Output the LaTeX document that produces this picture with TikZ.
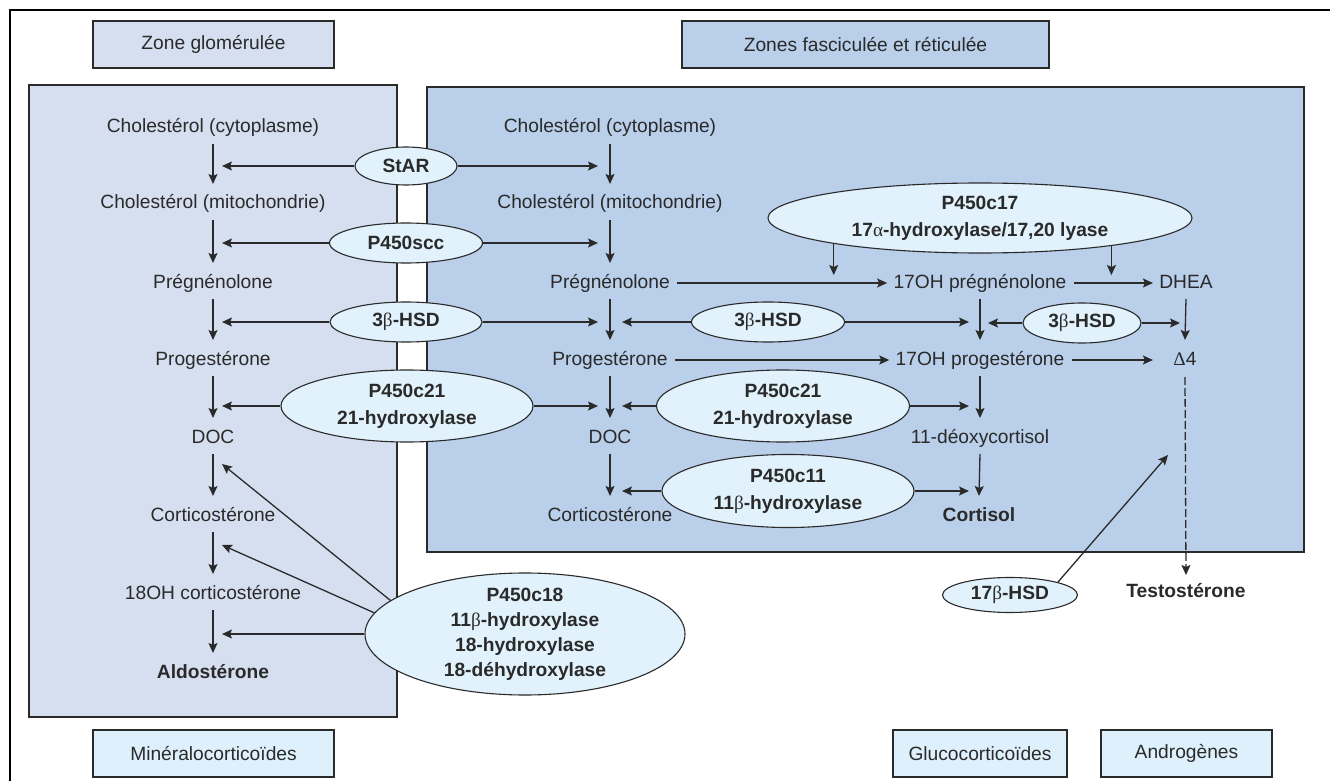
\documentclass[tikz,border=0pt]{standalone}
\usepackage{fontspec}
\setmainfont{Liberation Sans}
\newfontfamily\grkfont{Liberation Serif}
\usepackage{tikz}
\usetikzlibrary{calc}
\usetikzlibrary{shapes.geometric}
\usetikzlibrary{arrows.meta}

\definecolor{glomfill}{HTML}{D5DFF0}
\definecolor{fascfill}{HTML}{B9CFEA}
\definecolor{enzfill}{HTML}{E1F2FC}
\definecolor{tagfill}{HTML}{DDF0FB}
\definecolor{ink}{HTML}{2A2A2A}

% greek letters set apart, not bold
\newcommand{\gk}[1]{{\grkfont\mdseries #1}}
% one step down a column
\newcommand{\conv}[2]{\draw[flow] ([yshift=-8pt]#1.center) -- ([yshift=10pt]#2.center);}

\begin{document}
\begin{tikzpicture}[
		x=0.5pt, y=-0.5pt,
		font=\fontsize{9.6pt}{13pt}\selectfont,
		met/.style={inner sep=0pt, text height=7pt, text depth=2pt, text=ink},
		enz/.style={ellipse, draw=ink, line width=0.55pt, fill=enzfill, inner sep=0pt,
			align=center, text=ink, font=\fontsize{9.6pt}{13.5pt}\selectfont\bfseries},
		panel/.style={draw=ink, line width=0.8pt},
		tag/.style={draw=ink, line width=0.8pt, minimum height=23.5pt, inner sep=0pt, text=ink},
		flow/.style={draw=ink, line width=0.65pt, -{Stealth[length=5pt,width=4.5pt,inset=1pt]}},
		link/.style={flow, shorten <=3.5pt, shorten >=3pt}
		]
		\useasboundingbox (0,0) rectangle (1330,781);
		
		% frame
		\draw[line width=1.3pt] (10,781) -- (10,10) -- (1330,10);
		
		% zones
		\draw[panel, fill=glomfill] (29,85) rectangle (397,717);
		\draw[panel, fill=fascfill] (427,87) rectangle (1304,552);
		
		\node[tag, fill=glomfill, minimum width=120.5pt] (zg) at (213.5,44.5) {Zone glomérulée};
		\node[tag, fill=fascfill, minimum width=183.5pt] (zf) at (865.5,44.5) {Zones fasciculée et réticulée};
		\node[tag, fill=tagfill, minimum width=120.5pt] (mc) at (213.5,753.5) {Minéralocorticoïdes};
		\node[tag, fill=tagfill, minimum width=87pt] (gc) at (980,753.5) {Glucocorticoïdes};
		\node[tag, fill=tagfill, minimum width=85.5pt] (an) at (1186.5,753.5) {Androgènes};
		
		% glomerulosa column
		\node[met] (cyto1) at (213,128) {Cholestérol (cytoplasme)};
		\node[met] (mito1) at (213,204) {Cholestérol (mitochondrie)};
		\node[met] (preg1) at (213,283) {Prégnénolone};
		\node[met] (prog1) at (213,360) {Progestérone};
		\node[met] (doc1) at (213,438) {DOC};
		\node[met] (cort1) at (213,516) {Corticostérone};
		\node[met] (oh18) at (213,594) {18OH corticostérone};
		\node[met, font=\fontsize{9.6pt}{13pt}\selectfont\bfseries] (aldo) at (213,673) {Aldostérone};
		
		% fasciculata column
		\node[met] (cyto2) at (610,128) {Cholestérol (cytoplasme)};
		\node[met] (mito2) at (610,204) {Cholestérol (mitochondrie)};
		\node[met] (preg2) at (610,283) {Prégnénolone};
		\node[met] (prog2) at (610,360) {Progestérone};
		\node[met] (doc2) at (610,438) {DOC};
		\node[met] (cort2) at (610,516) {Corticostérone};
		
		\node[met] (ohpreg) at (980,283) {17OH prégnénolone};
		\node[met] (ohprog) at (980,360) {17OH progestérone};
		\node[met] (deoxy) at (980,438) {11-déoxycortisol};
		\node[met, font=\fontsize{9.6pt}{13pt}\selectfont\bfseries] (cortisol) at (979,516) {Cortisol};
		
		\node[met] (dhea) at (1186,283) {DHEA};
		\node[met] (delta) at (1185,360) {\gk{Δ}4};
		\node[met, font=\fontsize{9.6pt}{13pt}\selectfont\bfseries] (testo) at (1186,592) {Testostérone};
		
		% enzymes
		\node[enz, minimum width=51pt, minimum height=19pt] (star) at (406,166) {StAR};
		\node[enz, minimum width=76.5pt, minimum height=20pt] (scc) at (406,243) {P450scc};
		\node[enz, minimum width=76pt, minimum height=20pt] (hsd3a) at (406,322) {3\gk{β}-HSD};
		\node[enz, minimum width=126pt, minimum height=36pt] (c21a) at (407,406) {P450c21\\21-hydroxylase};
		\node[enz, minimum width=76.5pt, minimum height=20pt] (hsd3b) at (768,322) {3\gk{β}-HSD};
		\node[enz, minimum width=126.5pt, minimum height=36pt] (c21b) at (783,406) {P450c21\\21-hydroxylase};
		\node[enz, minimum width=126pt, minimum height=36.5pt] (c11) at (788,491) {P450c11\\11\gk{β}-hydroxylase};
		\node[enz, minimum width=212pt, minimum height=35pt] (c17) at (980,218) {P450c17\\17\gk{α}-hydroxylase/17,20 lyase};
		\node[enz, minimum width=59pt, minimum height=20pt] (hsd3c) at (1082,323) {3\gk{β}-HSD};
		\node[enz, minimum width=160pt, minimum height=61pt, inner ysep=-2pt,
		font=\fontsize{9.6pt}{12.5pt}\selectfont\bfseries] (c18) at (525,634)
		{P450c18\\11\gk{β}-hydroxylase\\18-hydroxylase\\18-déhydroxylase};
		\node[enz, minimum width=67.5pt, minimum height=17.5pt] (hsd17) at (1010,595) {17\gk{β}-HSD};
		
		% steps
		\conv{cyto1}{mito1}
		\conv{mito1}{preg1}
		\conv{preg1}{prog1}
		\conv{prog1}{doc1}
		\conv{doc1}{cort1}
		\conv{cort1}{oh18}
		\conv{oh18}{aldo}
		
		\conv{cyto2}{mito2}
		\conv{mito2}{preg2}
		\conv{preg2}{prog2}
		\conv{prog2}{doc2}
		\conv{doc2}{cort2}
		
		\conv{ohpreg}{ohprog}
		\conv{ohprog}{deoxy}
		\conv{deoxy}{cortisol}
		\conv{dhea}{delta}
		\draw[flow, dash pattern=on 4pt off 1.5pt] ([yshift=-8.5pt]delta.center) -- ([yshift=8.5pt]testo.center);
		
		\draw[link] (preg2.east) -- (ohpreg.west);
		\draw[link] (ohpreg.east) -- (dhea.west);
		\draw[link] (prog2.east) -- (ohprog.west);
		\draw[link] (ohprog.east) -- (ohprog.east -| dhea.west);
		
		% enzymes acting on both zones
		\foreach \e in {star,scc,hsd3a,c21a}{
			\draw[flow] (\e.west) -- ($(\e.west -| cyto1.center)+(4.5pt,0)$);
			\draw[flow] (\e.east) -- ($(\e.east -| cyto2.center)+(-6pt,0)$);
		}
		\foreach \e in {hsd3b,c21b,c11}{
			\draw[flow] (\e.west) -- ($(\e.west -| cyto2.center)+(6pt,0)$);
			\draw[flow] (\e.east) -- ($(\e.east -| ohpreg.center)+(-5.5pt,0)$);
		}
		\draw[flow] (hsd3c.west) -- ($(hsd3c.west -| ohpreg.center)+(4pt,0)$);
		\draw[flow] (hsd3c.east) -- ($(hsd3c.east -| dhea.center)+(-3pt,0)$);
		
		\draw[flow, shorten >=4pt] (c17.190) -- (c17.190 |- preg2.center);
		\draw[flow, shorten >=4pt] (c17.348) -- (c17.348 |- ohpreg.center);
		
		% aldosterone synthase
		\coordinate (docin) at ([xshift=4.5pt,yshift=-13pt]doc1.center);
		\coordinate (cortin) at ([xshift=4.5pt,yshift=-14.5pt]cort1.center);
		\draw[flow] (c18.166) -- (docin);
		\draw[flow] (c18.172) -- (cortin);
		\draw[flow] (c18.west) -- ($(c18.west -| oh18.center)+(4.5pt,0)$);
		
		\coordinate (t17) at (1168,455);
		\draw[flow] (hsd17.15) -- (t17);
	\end{tikzpicture}
\end{document}
